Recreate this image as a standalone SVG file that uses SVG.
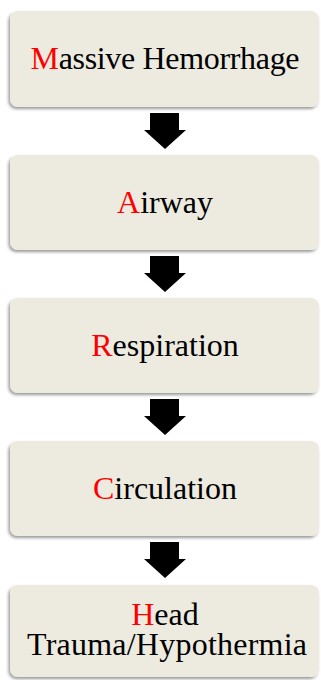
<svg xmlns="http://www.w3.org/2000/svg" width="321" height="680" viewBox="0 0 321 680">
<style>
.box{fill:#EDEAE0;filter:url(#sh)}
.t{font-family:"Liberation Serif","Times New Roman",serif;font-size:32px;fill:#000;text-anchor:middle}
.r{fill:#FF0000}
.arr{fill:#000}
</style>
<defs>
<filter id="sh" x="-10%" y="-10%" width="120%" height="130%">
<feDropShadow dx="-1.5" dy="2" stdDeviation="1.5" flood-color="#000" flood-opacity="0.4"/>
</filter>
<polygon id="a" points="150,0 179,0 179,17 186,17 165,36 144,17 150,17"/>
</defs>
<g id="connectors">
<use href="#a" class="arr" y="113"/>
<use href="#a" class="arr" y="256"/>
<use href="#a" class="arr" y="399"/>
<use href="#a" class="arr" y="542"/>
</g>
<g id="n1"><rect class="box" x="10" y="11" width="309" height="96" rx="8"/><text class="t" x="165" y="69" textLength="269" lengthAdjust="spacing"><tspan class="r">M</tspan>assive Hemorrhage</text></g>
<g id="n2"><rect class="box" x="10" y="155" width="309" height="95" rx="8"/><text class="t" x="165" y="213"><tspan class="r">A</tspan>irway</text></g>
<g id="n3"><rect class="box" x="10" y="298" width="309" height="95" rx="8"/><text class="t" x="165" y="356"><tspan class="r">R</tspan>espiration</text></g>
<g id="n4"><rect class="box" x="10" y="441" width="309" height="95" rx="8"/><text class="t" x="165" y="499"><tspan class="r">C</tspan>irculation</text></g>
<g id="n5"><rect class="box" x="10" y="585" width="309" height="92" rx="8"/><text class="t" x="165" y="625"><tspan class="r">H</tspan>ead</text><text class="t" x="167" y="655" textLength="280" lengthAdjust="spacing">Trauma/Hypothermia</text></g>
</svg>
